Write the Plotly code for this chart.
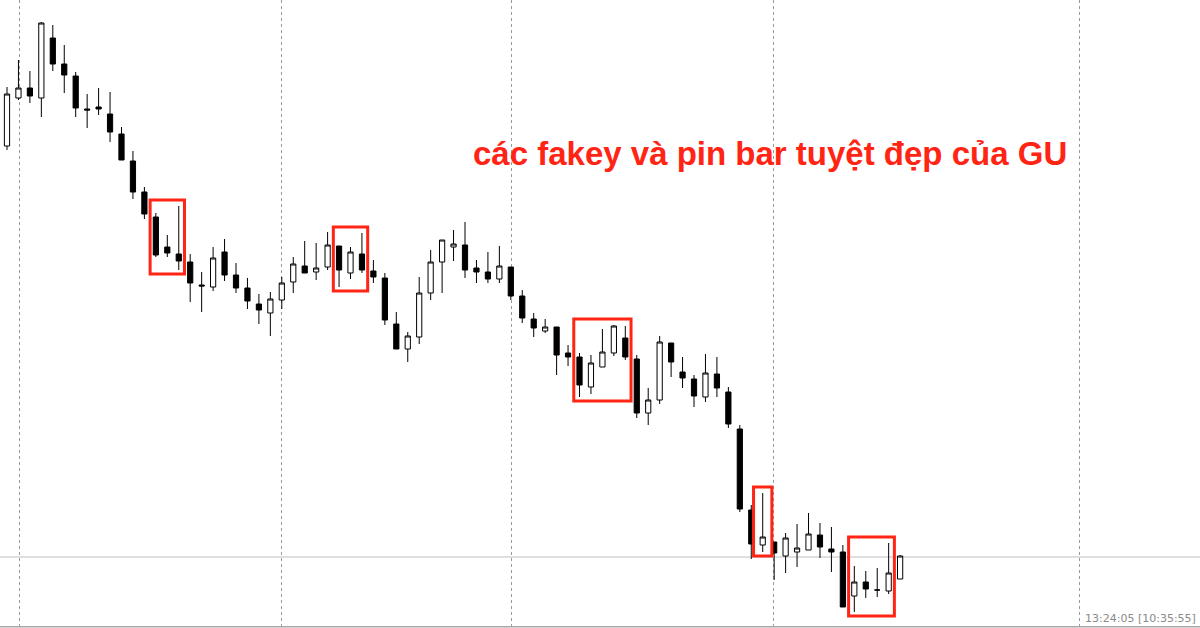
import plotly.graph_objects as go

# Candle data (price units, arbitrary scale)
opens  = [482,530,540,530,590,564,552,519,521,514,494,467,436,411,381,374,366,343,341,376,
          353,340,324,315,328,346,362,356,361,382,355,374,357,350,304,279,291,335,366,381,
          383,360,356,349,361,332,309,297,301,275,271,241,261,275,290,269,215,228,285,256,
          249,231,254,236,199,118,83,86,72,76,78,93,79,76,32,46,38,37,49]
highs  = [541,568,557,606,603,583,556,534,540,536,501,477,441,415,393,422,374,356,381,389,
          365,350,334,336,351,371,387,385,396,382,381,395,368,355,316,296,351,378,388,398,
          406,368,376,382,361,338,315,309,301,283,275,273,299,303,302,273,240,292,285,271,
          253,274,271,241,203,123,135,86,95,104,115,105,101,83,62,57,60,85,73]
lows   = [478,528,525,511,557,535,511,500,513,486,468,429,409,371,371,358,326,316,337,347,
          335,319,304,292,319,335,355,348,358,341,349,355,345,303,279,266,284,328,335,367,
          350,345,345,345,328,305,291,295,253,262,231,234,261,272,268,210,203,224,251,240,
          221,226,231,200,116,69,76,48,55,61,78,70,56,21,16,30,31,34,49]
closes = [534,540,532,605,564,553,520,518,519,496,468,436,414,373,375,367,345,342,370,353,
          340,327,318,329,345,364,355,360,383,358,376,358,351,308,279,292,335,366,388,384,
          358,356,349,362,332,310,300,301,273,271,243,265,276,302,271,215,228,286,266,250,
          232,255,240,204,119,84,91,75,90,80,94,81,76,21,46,39,38,55,72]
bars = list(range(len(opens)))

# Period separators (in bar units) and highlighted candle groups (first, last bar)
separators = [1.13, 23.93, 44.02, 66.9, 93.7]
highlight_groups = [(13, 15), (29, 31), (50, 54), (66, 66), (74, 77)]

title_text = "các fakey và pin bar tuyệt đẹp của GU"
clock_text = "13:24:05 [10:35:55]"

RED = "#ff2414"

fig = go.Figure()
fig.add_trace(go.Candlestick(
    x=bars, open=opens, high=highs, low=lows, close=closes,
    increasing=dict(fillcolor="white", line=dict(color="#000000", width=1)),
    decreasing=dict(fillcolor="#000000", line=dict(color="#000000", width=1)),
    whiskerwidth=0, showlegend=False, hoverinfo="skip",
))

shapes = []
# current price line
shapes.append(dict(type="line", xref="paper", x0=0, x1=1, yref="y",
                   y0=closes[-1] - 1, y1=closes[-1] - 1, line=dict(color="#d4d4d4", width=1.5),
                   layer="below"))
# bottom border
shapes.append(dict(type="line", xref="paper", x0=0, x1=1, yref="paper",
                   y0=0.002, y1=0.002, line=dict(color="#a8a8a8", width=1.5)))
# highlight boxes
for a, b in highlight_groups:
    hi = max(highs[a:b + 1]); lo = min(lows[a:b + 1])
    pad_x = 0.5 if b > a else 0.8
    shapes.append(dict(type="rect", xref="x", yref="y",
                       x0=a - pad_x, x1=b + pad_x, y0=lo - 4, y1=hi + 6,
                       line=dict(color=RED, width=3), fillcolor="rgba(0,0,0,0)"))

fig.update_layout(
    width=1200, height=628,
    margin=dict(l=0, r=0, t=0, b=0),
    paper_bgcolor="white", plot_bgcolor="white",
    boxgap=0.35,
    shapes=shapes,
    xaxis=dict(range=[-0.611, 104.19], rangeslider=dict(visible=False),
               tickvals=separators, showticklabels=False, ticks="",
               showgrid=True, gridcolor="#9a9a9a", griddash="dot", gridwidth=1,
               zeroline=False, showline=False, fixedrange=True),
    yaxis=dict(range=[0, 628], showgrid=False, zeroline=False, showticklabels=False,
               ticks="", showline=False, fixedrange=True),
    annotations=[
        dict(text="<b>" + title_text + "</b>", xref="paper", yref="paper",
             x=770 / 1200, y=1 - 153 / 628,
             xanchor="center", yanchor="middle", showarrow=False,
             font=dict(family="Liberation Sans, Arial, sans-serif", size=33, color=RED)),
        dict(text=clock_text, xref="paper", yref="paper", x=1083 / 1200, y=1 - 618 / 628,
             xanchor="left", yanchor="middle", showarrow=False,
             font=dict(family="DejaVu Sans, Verdana, sans-serif", size=11, color="#8a8a8a")),
    ],
)

fig.write_html("out.html", config={"displayModeBar": False},
               post_script="document.body.style.margin='0';document.body.style.overflow='hidden';")
